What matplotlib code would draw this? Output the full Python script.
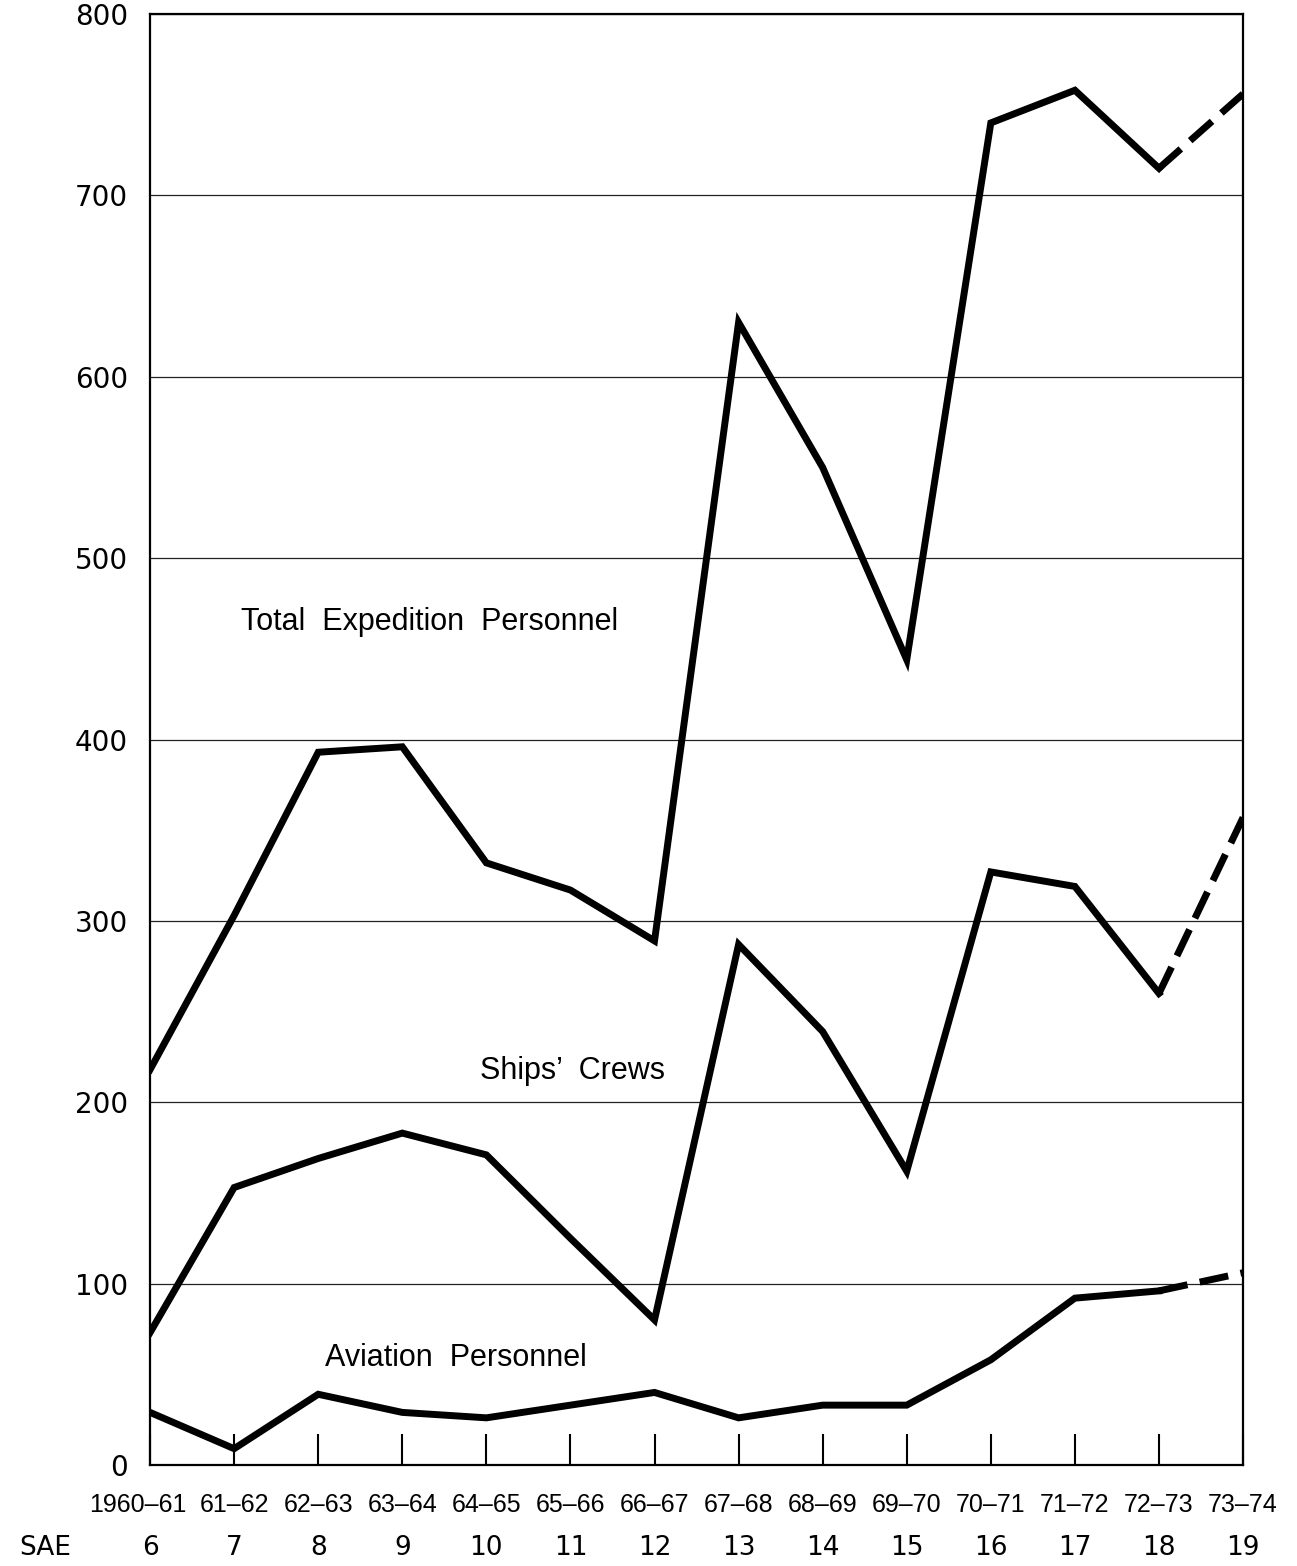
# Antarctic expedition personnel by season (SAE 6 - 19)
import matplotlib.pyplot as plt
from matplotlib.transforms import ScaledTranslation

seasons = ["1960\u201361", "61\u201362", "62\u201363", "63\u201364", "64\u201365", "65\u201366", "66\u201367",
           "67\u201368", "68\u201369", "69\u201370", "70\u201371", "71\u201372", "72\u201373", "73\u201374"]
sae = [6, 7, 8, 9, 10, 11, 12, 13, 14, 15, 16, 17, 18, 19]

total = [218, 303, 393, 396, 332, 317, 289, 630, 550, 444, 740, 758, 715, 756]
ships = [73, 153, 169, 183, 171, 125, 80, 287, 239, 162, 327, 319, 260, 357]
aviation = [29, 9, 39, 29, 26, 33, 40, 26, 33, 33, 58, 92, 96, 106]

narrow = ["Liberation Sans", "DejaVu Sans"]

fig = plt.figure(figsize=(12.97, 15.66), dpi=100)
ax = fig.add_axes([0.1157, 0.0645, 0.8427, 0.9265])

for vals in (total, ships, aviation):
    # last season is an estimate -> dashed
    ax.plot(sae[:-1], vals[:-1], color="black", lw=5, solid_joinstyle="miter")
    ax.plot(sae[-2:], vals[-2:], color="black", lw=5, ls=(0, (4.2, 1.8)))

ax.set_xlim(6, 19)
ax.set_ylim(0, 800)
ax.set_yticks(range(0, 801, 100))
ax.grid(axis="y", color="#222222", lw=0.9)
ax.set_axisbelow(True)

for s in ax.spines.values():
    s.set_linewidth(1.6)

ax.set_xticks(sae)
ax.set_xticklabels(seasons, family=narrow, fontsize=18)
ax.tick_params(axis="x", direction="in", length=22, width=1.5, pad=20)
ax.tick_params(axis="y", length=0, pad=16, labelsize=20)

# first season label sits a little to the left, as in the original
first = ax.get_xticklabels()[0]
first.set_transform(first.get_transform() + ScaledTranslation(-0.12, 0, fig.dpi_scale_trans))

# SAE row under the season labels
ax.text(-0.12, -0.057, "SAE", transform=ax.transAxes, fontsize=19,
        ha="left", va="center")
for x in sae:
    ax.text(x, -0.057, str(x), transform=ax.get_xaxis_transform(),
            fontsize=19, ha="center", va="center")

ax.text(9.32, 465, "Total  Expedition  Personnel", family=narrow, fontsize=22,
        ha="center", va="center")
ax.text(11.02, 217, "Ships\u2019  Crews", family=narrow, fontsize=22,
        ha="center", va="center")
ax.text(9.64, 59, "Aviation  Personnel", family=narrow, fontsize=22,
        ha="center", va="center")

fig.savefig("out.png", dpi=100)
